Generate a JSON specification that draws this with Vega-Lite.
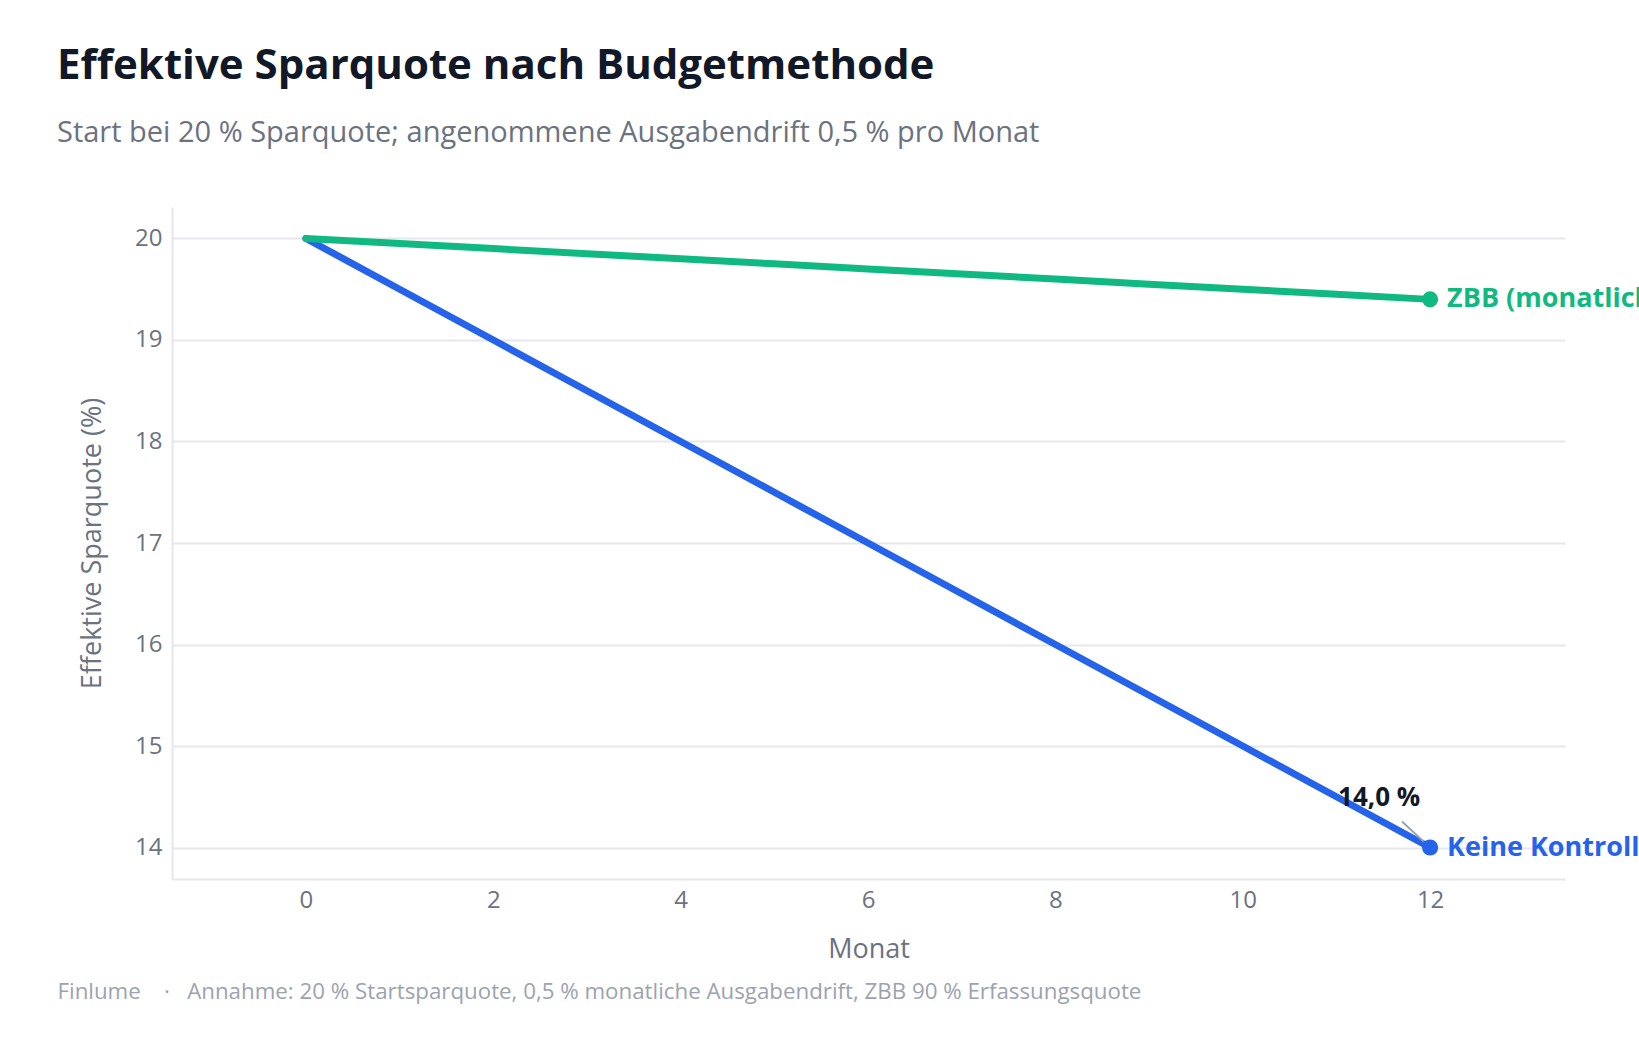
{
  "$schema": "https://vega.github.io/schema/vega-lite/v6.json",
  "width": 1393,
  "height": 672,
  "autosize": {"type": "none"},
  "padding": {"left": 172, "top": 207, "right": 74, "bottom": 161},
  "background": "white",
  "config": {
    "font": "Open Sans",
    "view": {"stroke": null},
    "axis": {"labelFont": "Open Sans", "titleFont": "Open Sans"}
  },
  "title": {
    "text": "Effektive Sparquote nach Budgetmethode",
    "subtitle": "Start bei 20 % Sparquote; angenommene Ausgabendrift 0,5 % pro Monat",
    "anchor": "start",
    "frame": "group",
    "dx": -115,
    "offset": 58,
    "fontSize": 42,
    "fontWeight": "bold",
    "color": "#111827",
    "subtitleFontSize": 29,
    "subtitleColor": "#6b7280",
    "subtitlePadding": 31,
    "font": "Open Sans",
    "subtitleFont": "Open Sans"
  },
  "datasets": {
    "series": [
      {"month": 0, "rate": 20.0, "method": "Keine Kontrolle"},
      {"month": 1, "rate": 19.5, "method": "Keine Kontrolle"},
      {"month": 2, "rate": 19.0, "method": "Keine Kontrolle"},
      {"month": 3, "rate": 18.5, "method": "Keine Kontrolle"},
      {"month": 4, "rate": 18.0, "method": "Keine Kontrolle"},
      {"month": 5, "rate": 17.5, "method": "Keine Kontrolle"},
      {"month": 6, "rate": 17.0, "method": "Keine Kontrolle"},
      {"month": 7, "rate": 16.5, "method": "Keine Kontrolle"},
      {"month": 8, "rate": 16.0, "method": "Keine Kontrolle"},
      {"month": 9, "rate": 15.5, "method": "Keine Kontrolle"},
      {"month": 10, "rate": 15.0, "method": "Keine Kontrolle"},
      {"month": 11, "rate": 14.5, "method": "Keine Kontrolle"},
      {"month": 12, "rate": 14.0, "method": "Keine Kontrolle"},
      {"month": 0, "rate": 20.0, "method": "ZBB (monatliche Kontrolle)"},
      {"month": 1, "rate": 19.95, "method": "ZBB (monatliche Kontrolle)"},
      {"month": 2, "rate": 19.9, "method": "ZBB (monatliche Kontrolle)"},
      {"month": 3, "rate": 19.85, "method": "ZBB (monatliche Kontrolle)"},
      {"month": 4, "rate": 19.8, "method": "ZBB (monatliche Kontrolle)"},
      {"month": 5, "rate": 19.75, "method": "ZBB (monatliche Kontrolle)"},
      {"month": 6, "rate": 19.7, "method": "ZBB (monatliche Kontrolle)"},
      {"month": 7, "rate": 19.65, "method": "ZBB (monatliche Kontrolle)"},
      {"month": 8, "rate": 19.6, "method": "ZBB (monatliche Kontrolle)"},
      {"month": 9, "rate": 19.55, "method": "ZBB (monatliche Kontrolle)"},
      {"month": 10, "rate": 19.5, "method": "ZBB (monatliche Kontrolle)"},
      {"month": 11, "rate": 19.45, "method": "ZBB (monatliche Kontrolle)"},
      {"month": 12, "rate": 19.4, "method": "ZBB (monatliche Kontrolle)"}
    ],
    "ends": [
      {"month": 12, "rate": 14.0, "method": "Keine Kontrolle"},
      {"month": 12, "rate": 19.4, "method": "ZBB (monatliche Kontrolle)"}
    ],
    "note": [
      {"tx": 11.456, "ty": 14.49, "label": "14,0 %", "ax": 11.70, "ay": 14.256, "bx": 11.93, "by": 14.06}
    ],
    "footer": [
      {"month": 0, "rate": 14}
    ]
  },
  "resolve": {"scale": {"x": "independent"}, "axis": {"x": "independent"}},
  "layer": [
    {
      "layer": [
        {
          "data": {"name": "series"},
          "mark": {"type": "line", "strokeWidth": 7, "strokeCap": "round", "strokeJoin": "round"},
          "encoding": {
            "x": {
              "field": "month", "type": "quantitative",
              "scale": {"domain": [-1.43, 13.44], "nice": false, "zero": false},
              "axis": {
                "orient": "bottom",
                "title": "Monat",
                "values": [0, 2, 4, 6, 8, 10, 12],
                "format": "d",
                "grid": false,
                "ticks": false,
                "domainColor": "#e5e7eb",
                "domainWidth": 2,
                "labelFontSize": 24,
                "labelColor": "#6b7280",
                "labelPadding": 9,
                "titleFontSize": 27,
                "titleFontWeight": "normal",
                "titleColor": "#6b7280",
                "titlePadding": 24
              }
            },
            "y": {
              "field": "rate", "type": "quantitative",
              "scale": {"domain": [13.69, 20.31], "nice": false, "zero": false},
              "axis": {
                "title": "Effektive Sparquote (%)",
                "values": [14, 15, 16, 17, 18, 19, 20],
                "format": "d",
                "grid": true,
                "gridColor": "#e5e7eb",
                "gridWidth": 2,
                "ticks": false,
                "domainColor": "#e5e7eb",
                "domainWidth": 2,
                "labelFontSize": 24,
                "labelColor": "#6b7280",
                "labelPadding": 10,
                "titleFontSize": 27,
                "titleFontWeight": "normal",
                "titleColor": "#6b7280",
                "titlePadding": 28
              }
            },
            "color": {
              "field": "method", "type": "nominal",
              "scale": {"domain": ["ZBB (monatliche Kontrolle)", "Keine Kontrolle"], "range": ["#10b981", "#2563eb"]},
              "legend": null
            }
          }
        },
        {
          "data": {"name": "ends"},
          "mark": {"type": "circle", "size": 260, "opacity": 1},
          "encoding": {
            "x": {"field": "month", "type": "quantitative"},
            "y": {"field": "rate", "type": "quantitative"},
            "color": {"field": "method", "type": "nominal", "legend": null}
          }
        },
        {
          "data": {"name": "ends"},
          "mark": {"type": "text", "align": "left", "baseline": "middle", "dx": 17, "fontSize": 27, "fontWeight": "bold", "clip": false},
          "encoding": {
            "x": {"field": "month", "type": "quantitative"},
            "y": {"field": "rate", "type": "quantitative"},
            "text": {"field": "method"},
            "color": {"field": "method", "type": "nominal", "legend": null}
          }
        },
        {
          "data": {"name": "note"},
          "mark": {"type": "rule", "color": "#9ca3af", "strokeWidth": 2},
          "encoding": {
            "x": {"field": "ax", "type": "quantitative"},
            "y": {"field": "ay", "type": "quantitative"},
            "x2": {"field": "bx"},
            "y2": {"field": "by"}
          }
        },
        {
          "data": {"name": "note"},
          "mark": {"type": "text", "align": "center", "baseline": "middle", "fontSize": 26, "fontWeight": "bold", "color": "#111827"},
          "encoding": {
            "x": {"field": "tx", "type": "quantitative"},
            "y": {"field": "ty", "type": "quantitative"},
            "text": {"field": "label"}
          }
        }
      ]
    },
    {
      "data": {"name": "footer"},
      "mark": {"type": "point", "opacity": 0},
      "encoding": {
        "x": {
          "field": "month", "type": "quantitative",
          "axis": {
            "orient": "bottom",
            "title": "Finlume\u00a0\u00a0\u00a0\u00a0·\u00a0\u00a0\u00a0Annahme: 20 % Startsparquote, 0,5 % monatliche Ausgabendrift, ZBB 90 % Erfassungsquote",
            "labels": false, "ticks": false, "domain": false, "grid": false,
            "titleAnchor": "start",
            "titleAlign": "left",
            "titleBaseline": "middle",
            "titleX": -115,
            "titleY": 112,
            "titleFontSize": 22.3,
            "titleFontWeight": "normal",
            "titleColor": "#9ca3af",
            "titlePadding": 0
          }
        },
        "y": {"field": "rate", "type": "quantitative"}
      }
    }
  ]
}
